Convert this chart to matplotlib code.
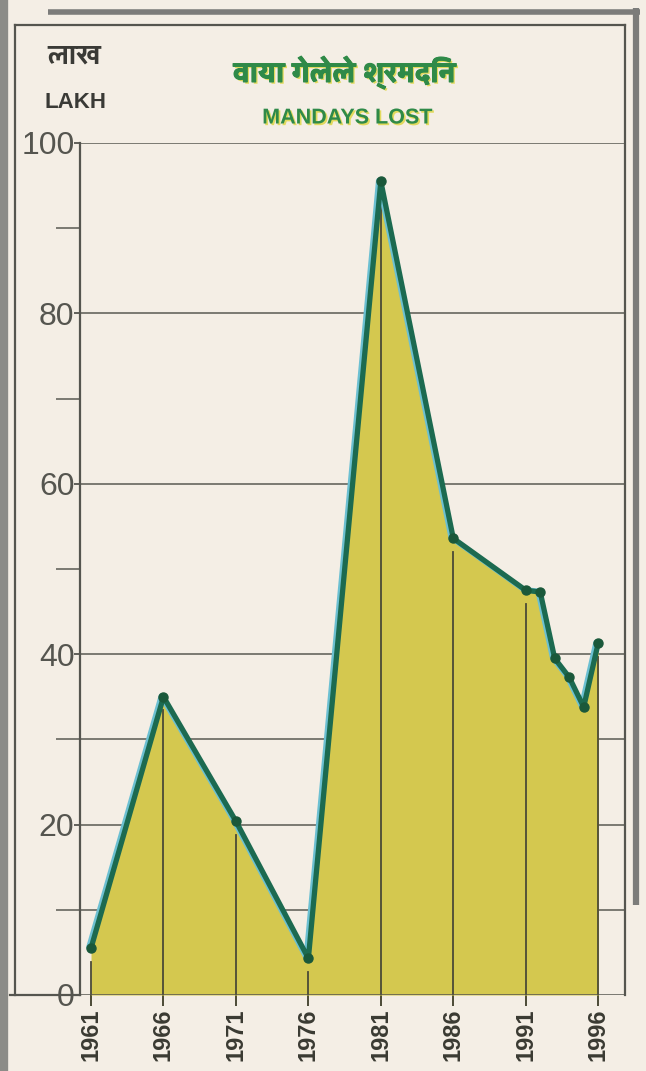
import matplotlib
matplotlib.use("Agg")
import matplotlib.pyplot as plt
import matplotlib.patheffects as pe
from matplotlib import font_manager, ft2font
from matplotlib.lines import Line2D


# data (lakh mandays lost)
years = [1961, 1966, 1971, 1976, 1981, 1986, 1991, 1992, 1993, 1994, 1995, 1996]
mandays = [5.5, 35.0, 20.4, 4.3, 95.5, 53.6, 47.5, 47.3, 39.5, 37.3, 33.8, 41.3]
tick_years = [1961, 1966, 1971, 1976, 1981, 1986, 1991, 1996]
y_ticks = [0, 20, 40, 60, 80, 100]
y_minor = [10, 30, 50, 70, 90]
grid_levels = [10, 20, 30, 40, 60, 80, 100]

title_mr = 'वाया गेलेले श्रमदिन'
title_en = 'MANDAYS LOST'
unit_mr = 'लाख'
unit_en = 'LAKH'


def weight_num(w):
    if isinstance(w, int):
        return w
    return font_manager.weight_dict.get(str(w).lower(), 400)


def find_family(ch):
    # installed font with a glyph for ch, heaviest one first
    found = []
    for f in font_manager.fontManager.ttflist:
        try:
            if ord(ch) in ft2font.FT2Font(f.fname).get_charmap():
                found.append((weight_num(f.weight), f.name))
        except Exception:
            pass
    if not found:
        return None
    found.sort(reverse=True)
    return found[0][1]


deva = find_family('व')
deva_fam = [deva, 'DejaVu Sans'] if deva else ['DejaVu Sans']

W, H = 646, 1071
bg = '#f4eee5'
fill_col = '#d4c84f'
line_col = '#1c6a50'
grid_col = '#5a5a52'
frame_col = '#55554f'
green_txt = '#2f8a48'

plt.rcParams['font.family'] = ['Liberation Sans', 'DejaVu Sans']

fig = plt.figure(figsize=(W / 100, H / 100), dpi=100, facecolor=bg)


def fig_line(x0, y0, x1, y1, **kw):
    fig.add_artist(Line2D([x0 / W, x1 / W], [1 - y0 / H, 1 - y1 / H],
                          transform=fig.transFigure, **kw))


# scan border bits and frame
fig_line(4, 0, 4, 1071, color='#8c8c88', lw=6, solid_capstyle='butt')
fig_line(48, 12, 640, 12, color='#7c7c7a', lw=4, solid_capstyle='butt')
fig_line(636, 8, 636, 905, color='#7c7c7a', lw=4.5, solid_capstyle='butt')
fig_line(15, 25, 625, 25, color=frame_col, lw=1.6)
fig_line(15, 25, 15, 995, color=frame_col, lw=1.6)
fig_line(625, 25, 625, 995, color=frame_col, lw=1.6)
fig_line(10, 995, 80, 995, color=frame_col, lw=1.6)

ax = fig.add_axes([80 / W, 76 / H, 545 / W, 852 / H])
ax.set_facecolor(bg)
ax.set_xlim(1960.24, 1997.85)
ax.set_ylim(0, 100)

for lv in grid_levels:
    ax.axhline(lv, color=grid_col, lw=1.1, zorder=1)
ax.axhline(0, color=frame_col, lw=1.8, zorder=6)

ax.fill_between(years, mandays, 0, color=fill_col, lw=0, zorder=2)

# drop lines at the labelled years, stopping a little below the curve
for yr in tick_years:
    v = mandays[years.index(yr)]
    ax.plot([yr, yr], [0, v - 1.6], color='#4b4a36', lw=1.3, zorder=3)

ax.plot(years, mandays, color=line_col, lw=3.8, zorder=4,
        solid_capstyle='round',
        path_effects=[pe.SimpleLineShadow(offset=(-1.6, 0.6), shadow_color='#6cc0d2', alpha=1),
                      pe.Normal()])
ax.plot(years, mandays, 'o', color='#1a583a', ms=6.5, zorder=5)

for s in ['top', 'right', 'bottom']:
    ax.spines[s].set_visible(False)
ax.spines['left'].set_color(frame_col)
ax.spines['left'].set_linewidth(1.6)

ax.set_yticks(y_ticks)
ax.set_yticks(y_minor, minor=True)
ax.tick_params(axis='y', which='major', length=4, width=1.3, color=frame_col,
               labelsize=23, labelcolor='#55554f', pad=0)
ax.tick_params(axis='y', which='minor', length=17, width=1.1, color=grid_col)

ax.set_xticks(tick_years)
ax.set_xticklabels([str(y) for y in tick_years], rotation=90,
                   fontweight='bold', fontsize=17, color='#3a3a32')
ax.tick_params(axis='x', length=8, width=1.4, color='#4b4a36', pad=2)

# titles
halo = [pe.withSimplePatchShadow(offset=(1.2, -1.2), shadow_rgbFace='#e2da5e', alpha=1)]
thick = [pe.withSimplePatchShadow(offset=(1.3, -1.3), shadow_rgbFace='#e2da5e', alpha=1),
         pe.Stroke(linewidth=0.8, foreground=green_txt), pe.Normal()]
fig.text(345 / W, 1 - 73 / H, title_mr, family=deva_fam, fontsize=21,
         fontweight='bold', color=green_txt, ha='center', va='center',
         path_effects=thick)
fig.text(347 / W, 1 - 118 / H, title_en, fontsize=15.5, fontweight='bold',
         color=green_txt, ha='center', va='center', path_effects=halo)
fig.text(74 / W, 1 - 57 / H, unit_mr, family=deva_fam, fontsize=20,
         fontweight='bold', color='#3a3a36', ha='center', va='center')
fig.text(76 / W, 1 - 103 / H, unit_en, fontsize=16, fontweight='bold',
         color='#3a3a36', ha='center', va='center')

fig.savefig('out.png', dpi=100, facecolor=bg)
